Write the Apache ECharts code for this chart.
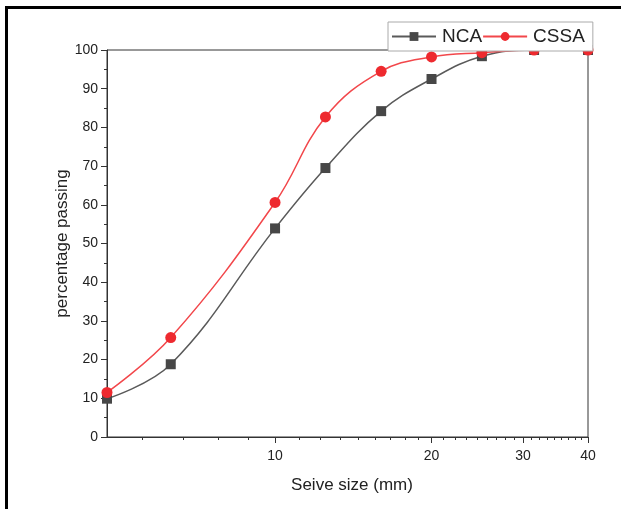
<!DOCTYPE html>
<html>
<head>
    <meta charset="utf-8">
    <title>Sieve grading</title>
    <script src="https://cdn.jsdelivr.net/npm/echarts@6/dist/echarts.min.js"></script>
    <style type="text/css">
        html, body { margin: 0; padding: 0; background: #fff; }
        #frame {
            position: absolute;
            left: 5px; top: 6px;
            width: 616px; height: 503px;
            border-left: 3px solid #000;
            border-top: 3px solid #000;
            box-sizing: border-box;
        }
        #main {
            position: absolute;
            left: 0; top: 0;
            width: 621px; height: 509px;
        }
    </style>
</head>
<body>
    <div id="frame"></div>
    <div id="main"></div>

    <script type="text/javascript">
        // sieve sizes (mm)
        var sizes = [4.75, 6.3, 10, 12.5, 16, 20, 25, 31.5, 40];
        var nca = [9.9, 18.8, 53.9, 69.5, 84.2, 92.5, 98.4, 100, 100];
        var cssa = [11.5, 25.7, 60.6, 82.7, 94.5, 98.2, 99.3, 100, 100];

        var xMajor = [10, 20, 30, 40];
        var xMinor = [5.556, 6.667, 7.778, 8.889,
            11.11, 12.22, 13.33, 14.44, 15.56, 16.67, 17.78, 18.89,
            21.11, 22.22, 23.33, 24.44, 25.56, 26.67, 27.78, 28.89,
            31.11, 32.22, 33.33, 34.44, 35.56, 36.67, 37.78, 38.89];

        function pairs(ys) {
            var out = [];
            for (var i = 0; i < sizes.length; i++) {
                out.push([sizes[i], ys[i]]);
            }
            return out;
        }

        var font = 'Arial, "Liberation Sans", sans-serif';
        var axisColor = '#333';

        var chart = echarts.init(document.getElementById('main'));

        var option = {
            animation: false,
            textStyle: { fontFamily: font },
            grid: {
                left: 107, right: 33, top: 50, bottom: 72,
                show: true,
                borderColor: axisColor,
                borderWidth: 1
            },
            legend: {
                left: 388, top: 22,
                z: 20,
                padding: [5, 8, 5, 3],
                itemGap: 0,
                itemWidth: 44,
                itemHeight: 11,
                backgroundColor: '#fff',
                borderColor: '#aaa',
                borderWidth: 1,
                textStyle: { fontSize: 19, color: '#222', fontFamily: font, padding: [0, 0, 0, 1] },
                data: ['NCA', 'CSSA']
            },
            xAxis: [
                {
                    type: 'log',
                    logBase: 10,
                    min: 4.75,
                    max: 40,
                    position: 'bottom',
                    name: 'Seive size (mm)',
                    nameLocation: 'middle',
                    nameGap: 40,
                    nameMoveOverlap: false,
                    nameTextStyle: { fontSize: 17, color: '#222', padding: [0, 0, 0, 9] },
                    axisLine: { lineStyle: { color: axisColor, width: 1 } },
                    axisTick: { show: true, length: 6, customValues: xMajor, lineStyle: { color: axisColor } },
                    axisLabel: { customValues: xMajor, fontSize: 14, color: '#222', margin: 12 },
                    splitLine: { show: false }
                },
                {
                    type: 'log',
                    logBase: 10,
                    min: 4.75,
                    max: 40,
                    position: 'bottom',
                    axisLine: { show: false },
                    axisTick: { show: true, length: 3, customValues: xMinor, lineStyle: { color: axisColor } },
                    axisLabel: { show: false },
                    splitLine: { show: false }
                }
            ],
            yAxis: {
                type: 'value',
                min: 0,
                max: 100,
                interval: 10,
                name: 'percentage passing',
                nameLocation: 'middle',
                nameGap: 36,
                nameMoveOverlap: false,
                nameTextStyle: { fontSize: 17, color: '#222' },
                axisLine: { show: true, lineStyle: { color: axisColor, width: 1 } },
                axisTick: { show: true, length: 6, lineStyle: { color: axisColor } },
                minorTick: { show: true, splitNumber: 2, length: 3, lineStyle: { color: axisColor } },
                axisLabel: { fontSize: 14, color: '#222', margin: 9 },
                splitLine: { show: false }
            },
            series: [
                {
                    name: 'NCA',
                    type: 'line',
                    data: pairs(nca),
                    smooth: 0.4,
                    symbol: 'rect',
                    symbolSize: 10,
                    clip: true,
                    itemStyle: { color: '#474747' },
                    lineStyle: { color: '#5a5a5a', width: 1.5 }
                },
                {
                    name: 'CSSA',
                    type: 'line',
                    data: pairs(cssa),
                    smooth: 0.4,
                    symbol: 'circle',
                    symbolSize: 11,
                    clip: true,
                    itemStyle: { color: '#ee2a2f' },
                    lineStyle: { color: '#f2474b', width: 1.5 }
                }
            ]
        };
        chart.setOption(option);
    </script>
</body>
</html>
